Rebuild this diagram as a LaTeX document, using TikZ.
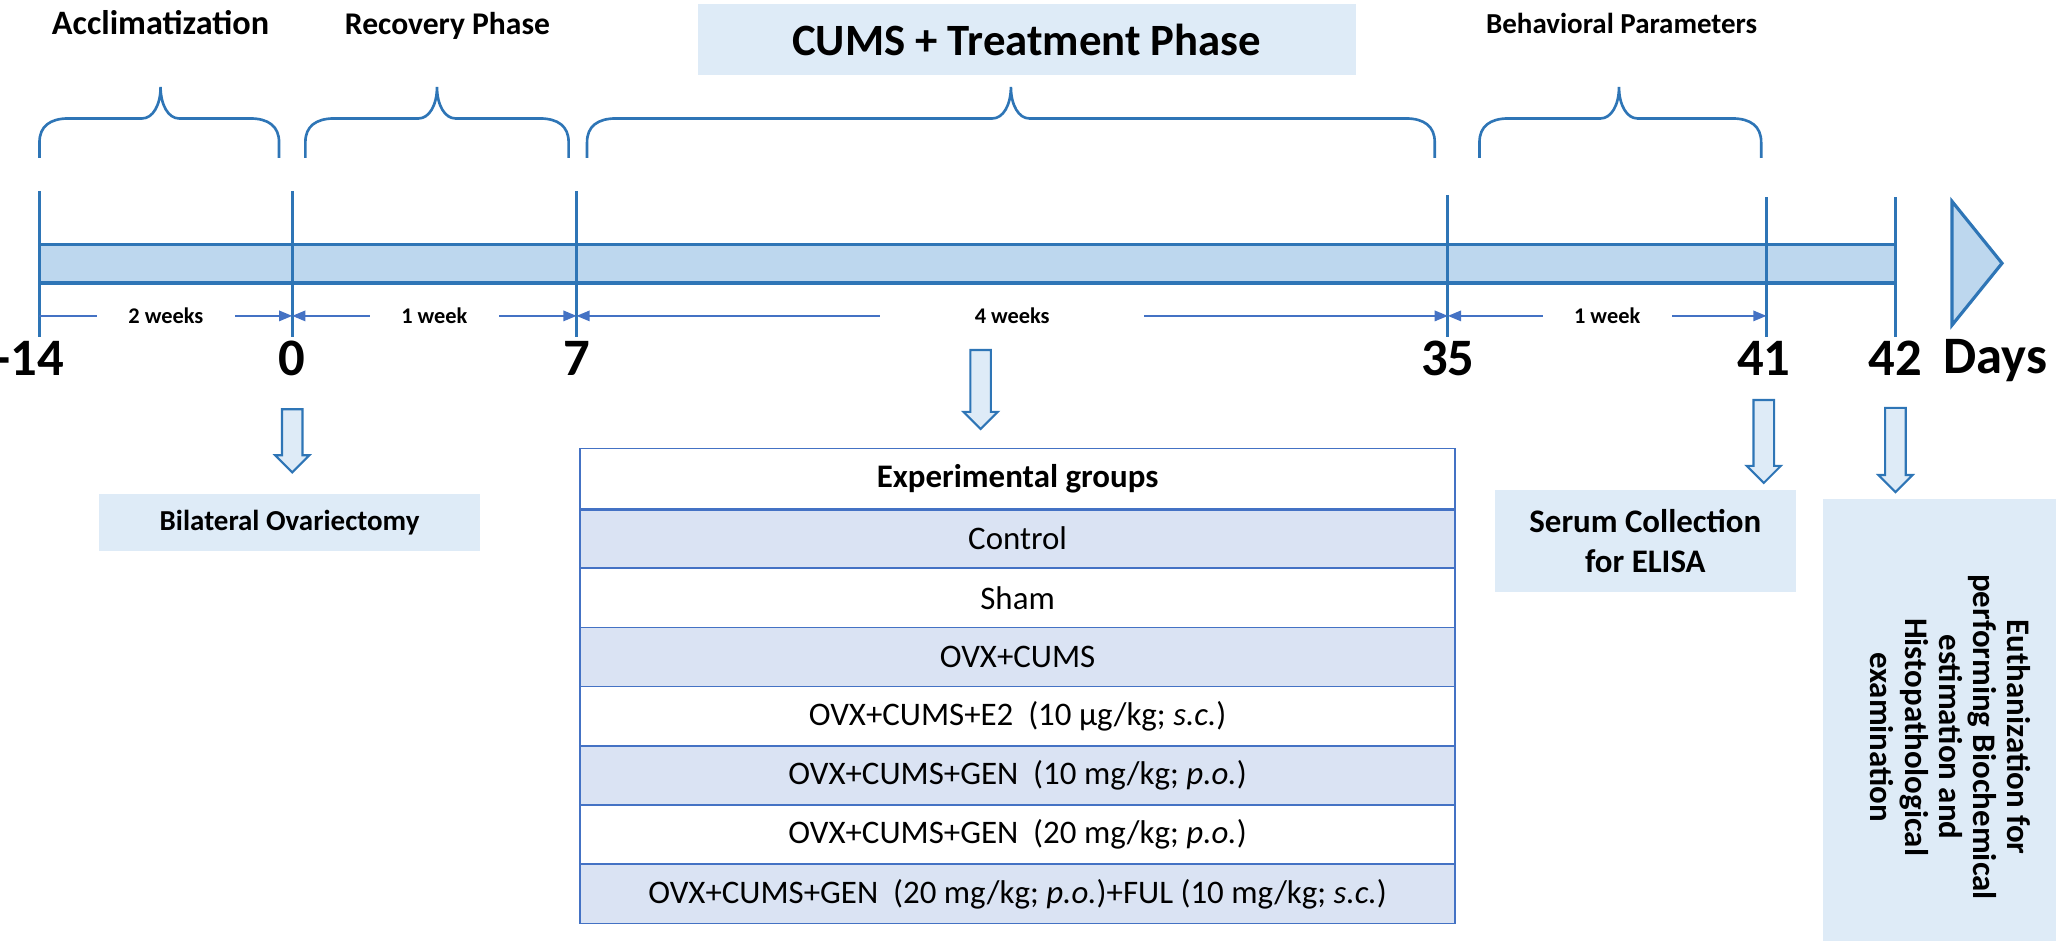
\documentclass[tikz,border=0pt]{standalone}
\usepackage{fontspec}
\setmainfont{Carlito}
\usetikzlibrary{arrows.meta,shapes.arrows}
\definecolor{ln}{HTML}{2E75B6}
\definecolor{tb}{HTML}{4472C4}
\definecolor{barf}{HTML}{BDD7EE}
\definecolor{boxf}{HTML}{DEEBF7}
\definecolor{rowf}{HTML}{DAE3F3}
\begin{document}
\begin{tikzpicture}[x=0.5pt,y=-0.5pt,
  lab/.style={font=\bfseries\fontsize{12}{13}\selectfont},
  num/.style={font=\bfseries\fontsize{20}{22}\selectfont},
  dim/.style={font=\bfseries\fontsize{8.5}{9}\selectfont,fill=white,inner xsep=12pt,text=black},
  tick/.style={ln,line width=1.2pt},
  brace/.style={ln,line width=1pt},
  dimarr/.style={tb,line width=0.6pt},
  box/.style={fill=boxf,draw=none,font=\bfseries\fontsize{12.5}{15}\selectfont,align=center},
  darr/.style={single arrow,shape border rotate=270,draw=ln,fill=boxf,line width=0.8pt,
     inner sep=3.5pt,single arrow head extend=2.6pt,single arrow tip angle=90},
  row/.style={draw=tb,line width=0.6pt,minimum width=332.5pt,minimum height=22.5pt,inner sep=0pt,font=\fontsize{12.5}{14}\selectfont,anchor=north west}]
\useasboundingbox (0,0) rectangle (1562,715);
% title
\node[box,minimum width=250pt,minimum height=27pt,font=\bfseries\fontsize{17}{19}\selectfont] (title) at (780,30) {CUMS + Treatment Phase};
\node[lab,font=\bfseries\fontsize{13}{14}\selectfont] (acc) at (122,17) {Acclimatization};
\node[lab] (rec) at (340,20) {Recovery Phase};
\node[lab,font=\bfseries\fontsize{11}{12}\selectfont] (beh) at (1232,18) {Behavioral Parameters};
% braces
\newcommand{\mybrace}[3]{%
 \draw[brace] (#1,120) -- (#1,108) .. controls (#1,96) and (#1+8,90) .. (#1+22,90) -- (#3-14,90) .. controls (#3-6,90) and (#3,80) .. (#3,66)
   .. controls (#3,80) and (#3+6,90) .. (#3+14,90) -- (#2-22,90) .. controls (#2-8,90) and (#2,96) .. (#2,108) -- (#2,120);}
\mybrace{30}{212}{122}
\mybrace{232}{432}{332}
\mybrace{446}{1090}{768}
\mybrace{1124}{1338}{1230}
% bar
\draw[ln,fill=barf,line width=1.2pt] (30,186) rectangle (1440,215);
\draw[ln,fill=barf,line width=1.2pt] (1483,153) -- (1483,247) -- (1521,200) -- cycle;
% ticks
\foreach \x/\a/\n in {30/145/a,222/145/b,438/145/c,1100/148/d,1342/150/e,1440/150/f}{
  \coordinate (top\n) at (\x,\a); \coordinate (bot\n) at (\x,256);
  \draw[tick] (top\n) -- (bot\n);}
% dimension arrows
\coordinate (da) at (30,240); \coordinate (db) at (222,240); \coordinate (dc) at (438,240);
\coordinate (dd) at (1100,240); \coordinate (de) at (1342,240);
\draw[dimarr,-{Triangle[length=5pt,width=4pt]}] (da) -- node[dim]{2 weeks} (db);
\draw[dimarr,{Triangle[length=5pt,width=4pt]}-{Triangle[length=5pt,width=4pt]}] (db) -- node[dim]{1 week} (dc);
\draw[dimarr,{Triangle[length=5pt,width=4pt]}-{Triangle[length=5pt,width=4pt]}] (dc) -- node[dim,inner xsep=36pt]{4 weeks} (dd);
\draw[dimarr,{Triangle[length=5pt,width=4pt]}-{Triangle[length=5pt,width=4pt]}] (dd) -- node[dim]{1 week} (de);
% numbers
\node[num] (n1) at (22,272) {-14};
\node[num] (n2) at (222,272) {0};
\node[num] (n3) at (438,272) {7};
\node[num] (n4) at (1100,272) {35};
\node[num] (n5) at (1340,272) {41};
\node[num] (n6) at (1440,272) {42};
\node[num] (n7) at (1516,274) {Days};
% down arrows
\node[darr,minimum height=24pt] (a1) at (222,331) {};
\node[darr,minimum height=30pt] (a2) at (745,292) {};
\node[darr,minimum height=31.5pt] (a3) at (1340,331.5) {};
\node[darr,minimum height=32pt] (a4) at (1440,338) {};
% boxes
\node[box,minimum width=145pt,minimum height=21.5pt,font=\bfseries\fontsize{11}{13}\selectfont] (ovx) at (220,397) {Bilateral Ovariectomy};
\node[box,minimum width=114.5pt,minimum height=39pt] (ser) at (1250,411) {Serum Collection\\for ELISA};
\node[fill=boxf,minimum width=88.5pt,minimum height=168pt] (eu) at (1473.5,547) {};
\node[rotate=-90,font=\bfseries\fontsize{12.5}{13}\selectfont,align=center] (eut) at (1482,560) {Euthanization for\\performing Biochemical\\estimation and\\Histopathological\\examination};
% table
\node[row,font=\bfseries\fontsize{12.5}{14}\selectfont,minimum height=23pt] (r0) at (440,340) {Experimental groups};
\node[row,fill=rowf] (r1) at (440,386) {Control};
\node[row] (r2) at (440,431) {Sham};
\node[row,fill=rowf] (r3) at (440,476) {OVX+CUMS};
\node[row] (r4) at (440,521) {OVX+CUMS+E2\ \ (10 µg/kg; \textit{s.c.})};
\node[row,fill=rowf] (r5) at (440,566) {OVX+CUMS+GEN\ \ (10 mg/kg; \textit{p.o.})};
\node[row] (r6) at (440,611) {OVX+CUMS+GEN\ \ (20 mg/kg; \textit{p.o.})};
\node[row,fill=rowf] (r7) at (440,656) {OVX+CUMS+GEN\ \ (20 mg/kg; \textit{p.o.})+FUL (10 mg/kg; \textit{s.c.})};
\draw[tb,line width=1.2pt] (r0.south west) -- (r0.south east);
\end{tikzpicture}
\end{document}
